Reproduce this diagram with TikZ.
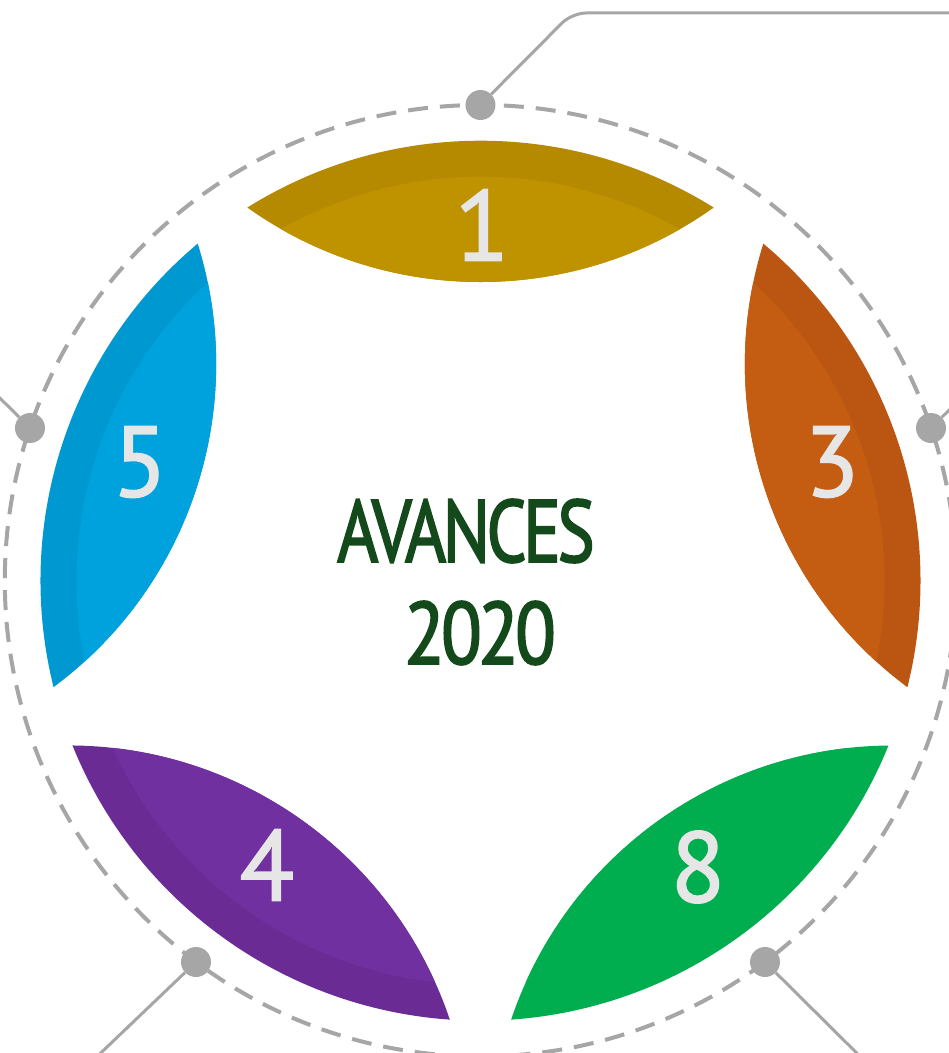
\documentclass[tikz,border=0pt]{standalone}
\usepackage{fontspec}
\setmainfont{PT Sans}
\newfontfamily\dinfont[LetterSpace=-5,FakeBold=2.2]{PT Sans}
\newfontfamily\numfont[FakeBold=1.6]{PT Sans}
\definecolor{golddark}{HTML}{B68A00}
\definecolor{goldlight}{HTML}{BF9200}
\definecolor{orangedark}{HTML}{BA5611}
\definecolor{orangelight}{HTML}{C45C12}
\definecolor{bluedark}{HTML}{0098D0}
\definecolor{bluelight}{HTML}{00A2DD}
\definecolor{purpledark}{HTML}{6A2C94}
\definecolor{purplelight}{HTML}{7030A0}
\definecolor{greenpetal}{HTML}{00AE4F}
\definecolor{linegray}{HTML}{A6A6A6}
\definecolor{numgray}{HTML}{E6E6E6}
\definecolor{titlegreen}{HTML}{144A1B}
\begin{document}
\begin{tikzpicture}[x=1pt,y=1pt,
  lens/.style={insert path={({#1-32}:440) arc[start angle={#1-32}, end angle={#1+32}, radius=440]
     arc[start angle={#1+144.58}, end angle={#1+215.42}, radius=402.4] -- cycle}},
  dashcirc/.style={draw=linegray, line width=4pt, dash pattern=on 20pt off 12pt},
  conn/.style={draw=linegray, line width=3pt},
  dotnode/.style={circle, fill=linegray, minimum size=30pt, inner sep=0pt},
  petalnum/.style={text=numgray, font=\numfont\fontsize{100}{100}\selectfont, inner sep=0pt},
  titletext/.style={text=titlegreen, font=\dinfont\fontsize{88}{88}\selectfont, inner sep=0pt}]
\clip (-480.5,-472.3) rectangle (468.5,580.7);
\fill[white] (-480.5,-472.3) rectangle (468.5,580.7);

% dashed ring
\draw[dashcirc] (0,0) circle[radius=475.7];

% petals
\foreach \ang/\dk/\lt in {90/golddark/goldlight, 18/orangedark/orangelight, 162/bluedark/bluelight, 234/purpledark/purplelight, 306/greenpetal/greenpetal}{
  \fill[\dk, lens=\ang];
  \begin{scope}
    \clip[lens=\ang];
    \fill[\lt] (0,0) circle[radius=404];
  \end{scope}
}

% connector end points
\coordinate (e1a) at (91.5,567.7);
\coordinate (e1b) at (475,567.7);
\coordinate (e2) at (472,174);
\coordinate (e3) at (-492,194);
\coordinate (e4) at (-392,-484);
\coordinate (e5) at (388,-484);

% dots
\node[dotnode] (d1) at (0,475.7) {};
\node[dotnode] (d2) at (450.5,152.7) {};
\node[dotnode] (d3) at (-450.5,152.7) {};
\node[dotnode] (d4) at (-284.5,-381.3) {};
\node[dotnode] (d5) at (284.5,-381.3) {};

% connectors
\draw[conn, rounded corners=14pt] (d1) -- (e1a) -- (e1b);
\draw[conn] (d2) -- (e2);
\draw[conn] (d3) -- (e3);
\draw[conn] (d4) -- (e4);
\draw[conn] (d5) -- (e5);

% petal numbers
\node[petalnum] (n1) at (1.5,355.7) {1};
\node[petalnum] (n3) at (351.5,118.7) {3};
\node[petalnum] (n5) at (-340.5,118.7) {5};
\node[petalnum] (n4) at (-213.5,-284.3) {4};
\node[petalnum] (n8) at (217.5,-286.3) {8};

% title
\node[titletext] (t1) at (-14.5,49.7) {\scalebox{0.8}[1]{AVANCES}};
\node[titletext] (t2) at (-0.5,-52.3) {\scalebox{0.85}[1]{2020}};
\end{tikzpicture}
\end{document}
